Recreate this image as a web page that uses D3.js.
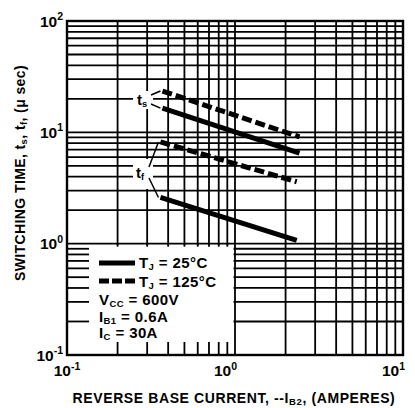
<!DOCTYPE html>
<html>
<head>
<meta charset="utf-8">
<script src="https://cdn.jsdelivr.net/npm/d3@7"></script>
<style>
  html, body { margin: 0; padding: 0; background: #fff; }
  svg { display: block; font-family: "Liberation Sans", Arial, Helvetica, sans-serif; }
</style>
</head>
<body>
<svg id="chart" width="415" height="408"></svg>
<script>
// ---- data ----
const xDecades = [0.1, 1, 10];
const xExponents = ["-1", "0", "1"];
const yDecades = [0.1, 1, 10, 100];
const yExponents = ["-1", "0", "1", "2"];

const tsCurrent = [0.37, 2.42];
const ts25 = [16.5, 6.5];
const ts125 = [23.5, 9.1];
const tfCurrent = [0.36, 2.33];
const tf25 = [2.6, 1.07];
const tf125 = [8.2, 3.6];

const legendTexts = [
  ["V", "CC", " = 600V"],
  ["I", "B1", " = 0.6A"],
  ["I", "C", " = 30A"]
];

// ---- layout ----
const svg = d3.select("#chart");
const L = 67, R = 403, T = 21, B = 355;
const x = d3.scaleLog().domain([0.1, 10]).range([L, R]);
const y = d3.scaleLog().domain([0.1, 100]).range([B, T]);

function minorTicks(lo, hi) {
  const out = [];
  for (let d = lo; d < hi - 1e-9; d *= 10) {
    for (let k = 1; k <= 9; k++) out.push(d * k);
  }
  out.push(hi);
  return out;
}
const xGrid = minorTicks(0.1, 10);
const yGrid = minorTicks(0.1, 100);

const g = svg.append("g");
const GW = 1.8;

// grid lines
g.selectAll(".vg").data(xGrid).enter().append("line")
  .attr("x1", d => x(d)).attr("x2", d => x(d))
  .attr("y1", T).attr("y2", B)
  .attr("stroke", "#000").attr("stroke-width", GW);
g.selectAll(".hg").data(yGrid).enter().append("line")
  .attr("y1", d => y(d)).attr("y2", d => y(d))
  .attr("x1", L).attr("x2", R)
  .attr("stroke", "#000").attr("stroke-width", GW);

// white legend area (lower-left decade block)
g.append("rect")
  .attr("x", x(0.1) + 1).attr("y", y(1) + 1.5)
  .attr("width", x(1) - x(0.1) - 2.5).attr("height", y(0.1) - y(1) - 2.5)
  .attr("fill", "#fff");

// stubs in legend block
const innerMinor = [0.2, 0.3, 0.4, 0.5, 0.6, 0.7, 0.8, 0.9];
g.selectAll(".ls").data(innerMinor).enter().append("line")
  .attr("x1", L).attr("x2", L + 22)
  .attr("y1", d => y(d)).attr("y2", d => y(d))
  .attr("stroke", "#000").attr("stroke-width", GW);
g.selectAll(".bs").data(innerMinor).enter().append("line")
  .attr("x1", d => x(d)).attr("x2", d => x(d))
  .attr("y1", B - 13).attr("y2", B)
  .attr("stroke", "#000").attr("stroke-width", GW);
g.selectAll(".ts").data(innerMinor).enter().append("line")
  .attr("x1", d => x(d)).attr("x2", d => x(d))
  .attr("y1", y(1)).attr("y2", y(1) + 3)
  .attr("stroke", "#000").attr("stroke-width", GW);

// white masks behind curve labels
g.append("rect").attr("x", 133).attr("y", 91).attr("width", 20).attr("height", 18).attr("fill", "#fff");
g.append("rect").attr("x", 133).attr("y", 159).attr("width", 20).attr("height", 30).attr("fill", "#fff");

// border
g.append("rect").attr("x", L).attr("y", T).attr("width", R - L).attr("height", B - T)
  .attr("fill", "none").attr("stroke", "#000").attr("stroke-width", 2.4);

// data lines
const line = d3.line().x(d => x(d[0])).y(d => y(d[1]));
function drawSeries(xs, ys, dashed) {
  g.append("path")
    .datum(xs.map((v, i) => [v, ys[i]]))
    .attr("d", line)
    .attr("fill", "none").attr("stroke", "#000").attr("stroke-width", 5)
    .attr("stroke-dasharray", dashed ? "10,4" : null);
}
drawSeries(tsCurrent, ts125, true);
drawSeries(tsCurrent, ts25, false);
drawSeries(tfCurrent, tf125, true);
drawSeries(tfCurrent, tf25, false);

// leader lines from labels
function leader(px, py, xv, yv) {
  g.append("line").attr("x1", px).attr("y1", py)
    .attr("x2", x(xv) - 2).attr("y2", y(yv))
    .attr("stroke", "#000").attr("stroke-width", 1.5);
}
leader(151, 95, tsCurrent[0], ts125[0]);
leader(151, 104, tsCurrent[0], ts25[0]);
leader(149, 167, tfCurrent[0], tf125[0]);
leader(149, 178, tfCurrent[0], tf25[0]);

// curve labels
function subLabel(px, py, main, sub, size) {
  const t = g.append("text").attr("x", px).attr("y", py)
    .attr("font-size", size).attr("font-weight", "bold").attr("text-anchor", "middle");
  t.append("tspan").text(main);
  t.append("tspan").text(sub).attr("font-size", size * 0.62).attr("dy", 2);
}
subLabel(142, 105, "t", "s", 15);
subLabel(140, 178, "t", "f", 15);

// y tick labels
yDecades.forEach((d, i) => {
  const t = svg.append("text").attr("x", 63).attr("y", y(d) + 5.5)
    .attr("text-anchor", "end").attr("font-size", 15.5).attr("font-weight", "bold").attr("fill", "#000");
  t.append("tspan").text("10");
  t.append("tspan").text(yExponents[i]).attr("font-size", 10.5).attr("dy", -6.5);
});

// x tick labels
xDecades.forEach((d, i) => {
  const t = svg.append("text")
    .attr("x", i === 0 ? x(d) : x(d) + 2)
    .attr("y", 376)
    .attr("text-anchor", i === 0 ? "middle" : "end")
    .attr("font-size", 15.5).attr("font-weight", "bold").attr("fill", "#000");
  t.append("tspan").text("10");
  t.append("tspan").text(xExponents[i]).attr("font-size", 10.5).attr("dy", -6.5);
});

// axis titles
const xt = svg.append("text").attr("x", 234).attr("y", 403).attr("text-anchor", "middle")
  .attr("font-size", 14).attr("font-weight", "bold").attr("letter-spacing", 0.6);
xt.append("tspan").text("REVERSE BASE CURRENT,  --I");
xt.append("tspan").text("B2").attr("font-size", 9.5).attr("dy", 2);
xt.append("tspan").text(", (AMPERES)").attr("dy", -2);

const yt = svg.append("text").attr("transform", "translate(25,173) rotate(-90)")
  .attr("text-anchor", "middle").attr("font-size", 14).attr("font-weight", "bold").attr("letter-spacing", 0.4);
yt.append("tspan").text("SWITCHING TIME, t");
yt.append("tspan").text("s").attr("font-size", 9.5).attr("dy", 2);
yt.append("tspan").text(", t").attr("dy", -2);
yt.append("tspan").text("f").attr("font-size", 9.5).attr("dy", 2);
yt.append("tspan").text(", (\u03BC sec)").attr("dy", -2);

// legend
const lg = svg.append("g");
lg.append("line").attr("x1", 99).attr("x2", 135).attr("y1", 263).attr("y2", 263)
  .attr("stroke", "#000").attr("stroke-width", 5);
lg.append("line").attr("x1", 99).attr("x2", 135).attr("y1", 281).attr("y2", 281)
  .attr("stroke", "#000").attr("stroke-width", 5).attr("stroke-dasharray", "10,3");
function tj(py, val) {
  const t = lg.append("text").attr("x", 139).attr("y", py).attr("font-size", 15).attr("font-weight", "bold")
    .attr("letter-spacing", 0.4);
  t.append("tspan").text("T");
  t.append("tspan").text("J").attr("font-size", 9.5).attr("dy", 2);
  t.append("tspan").text(" = " + val + "\u00B0C").attr("dy", -2);
}
tj(268, "25");
tj(287, "125");
legendTexts.forEach((row, i) => {
  const t = lg.append("text").attr("x", 99).attr("y", 305 + i * 16.5).attr("font-size", 15).attr("font-weight", "bold")
    .attr("letter-spacing", 0.4);
  t.append("tspan").text(row[0]);
  t.append("tspan").text(row[1]).attr("font-size", 9.5).attr("dy", 2);
  t.append("tspan").text(row[2]).attr("dy", -2);
});
</script>
</body>
</html>
